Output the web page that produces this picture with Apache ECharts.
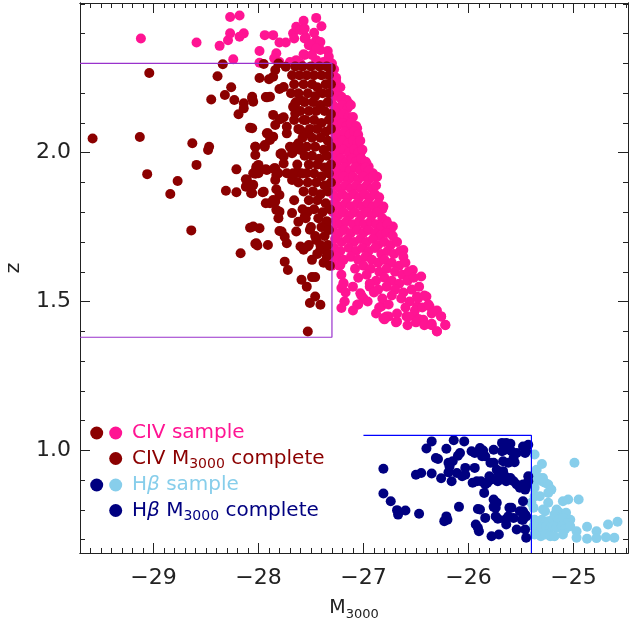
<!DOCTYPE html>
<html><head><meta charset="utf-8">
<script src="https://cdn.jsdelivr.net/npm/echarts@6/dist/echarts.min.js"></script>
<style>html,body{margin:0;padding:0;background:#fff}#c{width:629px;height:627px}</style>
</head><body><div id="c"></div>
<script>
// ---- axis ticks ----
const xMajorTicks = [-29, -28, -27, -26, -25];
const yMajorTicks = [1.0, 1.5, 2.0];
const xRange = [-29.7, -24.48];
const yRange = [0.655, 2.503];

// ---- box limits ----
const civBox = [[-29.7, 2.3], [-27.3, 2.3], [-27.3, 1.38], [-29.7, 1.38]];
const hbBox = [[-27.0, 1.05], [-25.4, 1.05], [-25.4, 0.655]];

// ---- CIV sample (not complete) ----
const civSample = [
[-29.12,2.384],[-28.59,2.37],[-28.27,2.456],[-28.18,2.461],[-28.37,2.359],[-28.29,2.378],[-28.27,2.401],[-28.18,2.39],[-28.14,2.401],[-28.24,2.314],
[-27.99,2.342],[-27.94,2.395],[-27.86,2.395],[-27.99,2.302],[-27.83,2.334],[-27.85,2.317],[-27.80,2.37],[-27.74,2.37],[-27.67,2.401],[-27.66,2.384],
[-27.64,2.423],[-27.60,2.412],[-27.57,2.443],[-27.55,2.388],[-27.52,2.361],[-27.48,2.356],[-27.45,2.378],[-27.47,2.403],[-27.45,2.453],[-27.40,2.425],
[-27.41,2.345],[-27.34,2.342],[-27.33,2.322],[-27.56,2.328],[-27.64,2.311],[-27.45,2.311],[-27.80,2.305],[-27.70,2.305],[-27.56,2.417],[-27.56,2.384],
[-27.51,2.365],[-27.41,2.372],[-27.45,2.35],[-27.57,2.331],[-27.49,2.328],[-27.38,2.305],[-27.30,2.30],[-27.60,2.30],
[-27.29,2.255],[-27.26,2.252],[-27.29,2.216],[-27.24,2.194],[-27.21,2.188],[-27.14,2.166],[-27.16,2.177],[-27.24,2.132],[-27.19,2.127],[-27.26,2.099],
[-27.13,2.11],[-27.06,2.082],[-27.11,2.071],[-27.16,2.054],[-27.05,2.032],[-27.03,1.998],[-27.0,1.964],[-26.95,1.953],[-26.91,1.931],[-26.87,1.919],
[-26.97,1.964],[-26.89,1.919],[-26.81,1.819],[-26.72,1.752],[-26.62,1.673],[-26.53,1.606],[-26.45,1.584],[-26.40,1.517],[-26.37,1.483],[-26.26,1.45],
[-26.22,1.422],[-26.30,1.399],[-26.35,1.425],
[-27.30,1.629],[-27.22,1.623],[-27.19,1.562],[-27.21,1.545],[-27.18,1.50],[-27.21,1.478],[-27.06,1.489],[-27.03,1.528],[-27.0,1.511],[-26.94,1.55],
[-26.83,1.483],[-26.76,1.45],[-26.81,1.444],[-26.68,1.433],[-26.59,1.45],[-26.49,1.483],[-26.51,1.45],[-26.43,1.439],[-26.49,1.517],
[-27.28,2.28],[-27.30,2.27],[-27.29,2.25],[-27.26,2.24],[-27.29,2.22],[-27.25,2.21],[-27.22,2.22],
[-27.28,2.19],[-27.24,2.19],[-27.21,2.18],[-27.17,2.17],
[-27.29,2.16],[-27.25,2.15],[-27.20,2.16],[-27.15,2.15],[-27.12,2.16],
[-27.28,2.13],[-27.24,2.12],[-27.19,2.13],[-27.14,2.12],[-27.10,2.12],
[-27.29,2.10],[-27.25,2.09],[-27.20,2.10],[-27.16,2.09],[-27.12,2.10],[-27.07,2.09],
[-27.28,2.07],[-27.23,2.06],[-27.18,2.07],[-27.13,2.06],[-27.09,2.07],[-27.05,2.06],
[-27.29,2.04],[-27.25,2.03],[-27.20,2.04],[-27.15,2.03],[-27.10,2.04],[-27.06,2.03],[-27.03,2.04],
[-27.28,2.01],[-27.24,2.00],[-27.19,2.01],[-27.14,2.00],[-27.09,2.01],[-27.05,2.00],[-27.01,2.01],
[-27.29,1.98],[-27.25,1.97],[-27.21,1.98],[-27.16,1.97],[-27.11,1.98],[-27.07,1.97],[-27.02,1.98],[-26.98,1.97],
[-27.28,1.95],[-27.23,1.94],[-27.18,1.95],[-27.13,1.94],[-27.08,1.95],[-27.03,1.94],[-26.98,1.95],[-26.95,1.94],
[-27.29,1.92],[-27.24,1.91],[-27.19,1.92],[-27.14,1.91],[-27.10,1.92],[-27.05,1.91],[-27.00,1.92],[-26.95,1.91],[-26.91,1.92],
[-27.28,1.89],[-27.22,1.88],[-27.17,1.89],[-27.12,1.88],[-27.07,1.89],[-27.02,1.88],[-26.97,1.89],[-26.92,1.88],[-26.88,1.89],
[-27.29,1.86],[-27.25,1.85],[-27.20,1.86],[-27.15,1.85],[-27.09,1.86],[-27.04,1.85],[-26.99,1.86],[-26.94,1.85],[-26.89,1.86],[-26.85,1.85],
[-27.28,1.83],[-27.23,1.82],[-27.17,1.83],[-27.12,1.82],[-27.06,1.83],[-27.01,1.82],[-26.96,1.83],[-26.91,1.82],[-26.86,1.83],[-26.82,1.81],
[-27.29,1.80],[-27.24,1.79],[-27.19,1.80],[-27.13,1.79],[-27.08,1.80],[-27.02,1.79],[-26.97,1.80],[-26.92,1.79],[-26.87,1.80],[-26.82,1.78],[-26.78,1.77],
[-27.27,1.77],[-27.22,1.76],[-27.16,1.77],[-27.10,1.76],[-27.04,1.77],[-26.99,1.76],[-26.93,1.77],[-26.88,1.76],[-26.83,1.75],[-26.77,1.76],[-26.74,1.74],
[-27.29,1.74],[-27.23,1.73],[-27.18,1.74],[-27.12,1.73],[-27.06,1.74],[-27.00,1.73],[-26.95,1.74],[-26.89,1.73],[-26.84,1.72],[-26.78,1.73],[-26.72,1.72],
[-27.27,1.71],[-27.21,1.70],[-27.15,1.71],[-27.09,1.70],[-27.03,1.71],[-26.97,1.70],[-26.91,1.71],[-26.86,1.69],[-26.80,1.70],[-26.74,1.69],[-26.68,1.70],
[-27.28,1.68],[-27.22,1.67],[-27.14,1.68],[-27.07,1.67],[-27.01,1.68],[-26.95,1.67],[-26.89,1.68],[-26.83,1.66],[-26.77,1.67],[-26.71,1.66],[-26.65,1.67],[-26.62,1.65],
[-27.26,1.65],[-27.19,1.64],[-27.12,1.65],[-27.05,1.64],[-26.98,1.65],[-26.92,1.64],[-26.86,1.63],[-26.80,1.64],[-26.73,1.63],[-26.66,1.62],[-26.60,1.63],
[-27.30,1.62],[-27.23,1.62],[-27.08,1.61],[-27.00,1.62],[-26.93,1.61],[-26.85,1.60],[-26.78,1.61],[-26.70,1.60],[-26.63,1.59],[-26.57,1.60],
[-27.21,1.59],[-27.05,1.58],[-26.97,1.59],[-26.88,1.57],[-26.80,1.58],[-26.73,1.57],[-26.66,1.56],[-26.58,1.57],[-26.52,1.58],
[-27.19,1.56],[-27.10,1.55],[-26.94,1.56],[-26.86,1.54],[-26.78,1.55],[-26.70,1.54],[-26.62,1.53],[-26.54,1.54],[-26.47,1.55],
[-27.17,1.53],[-27.02,1.52],[-26.90,1.53],[-26.82,1.51],[-26.73,1.52],[-26.64,1.51],[-26.56,1.50],[-26.48,1.51],[-26.42,1.52],
[-27.18,1.50],[-27.05,1.49],[-26.96,1.50],[-26.85,1.48],[-26.76,1.49],[-26.60,1.48],[-26.51,1.47],[-26.44,1.48],[-26.38,1.49],
[-27.10,1.47],[-26.88,1.46],[-26.78,1.45],[-26.68,1.46],[-26.57,1.45],[-26.47,1.44],[-26.35,1.46],[-26.30,1.47],
[-26.80,1.44],[-26.69,1.43],[-26.58,1.42],[-26.50,1.43],[-26.42,1.42],[-26.26,1.45],[-26.35,1.42],[-26.22,1.42],[-26.30,1.40]
];

// ---- CIV M3000 complete ----
const civComplete = [
[-29.58,2.048],[-29.13,2.053],[-29.04,2.268],[-29.06,1.928],[-28.77,1.905],[-28.84,1.861],[-28.63,2.032],[-28.59,1.959],[-28.47,2.02],[-28.45,2.179],
[-28.39,2.257],[-28.34,2.297],[-28.26,2.22],[-28.32,2.194],[-28.23,2.177],[-28.14,2.166],[-28.14,2.149],[-28.19,2.129],[-28.08,2.084],[-28.06,2.188],
[-28.05,2.171],[-28.21,1.944],[-28.31,1.872],[-28.21,1.867],[-28.11,1.908],[-28.12,1.886],[-28.06,1.864],[-28.03,2.02],[-28.03,1.929],[-28.0,1.948],
[-27.96,1.867],[-27.99,2.251],[-27.95,2.298],[-27.93,2.187],[-27.89,2.188],[-27.90,2.247],[-27.86,2.255],[-27.86,2.127],[-27.92,2.065],[-27.89,2.043],
[-27.94,2.02],[-27.84,2.278],[-27.81,2.30],[-27.80,2.214],[-27.76,2.221],[-27.74,2.289],[-27.84,2.093],[-27.80,2.112],[-27.76,2.119],[-27.73,2.065],
[-27.79,1.996],[-27.76,1.987],[-27.70,2.02],[-27.67,2.003],[-27.85,1.945],[-27.81,1.931],[-27.84,1.908],[-27.68,1.908],[-27.64,1.931],[-27.65,2.166],
[-27.64,2.143],[-27.60,2.177],[-28.06,2.182],[-27.92,2.186],[-27.67,2.154],[-27.65,2.132],[-27.78,2.115],[-27.73,2.087],
[-28.06,2.082],[-27.91,2.065],[-27.86,2.054],[-27.60,2.076],[-27.57,2.11],[-27.54,2.065],[-27.62,2.032],[-27.60,2.009],[-28.03,2.02],[-27.94,2.026],
[-27.68,1.998],[-27.78,1.998],[-27.76,1.964],[-28.02,1.953],[-27.92,1.942],[-27.84,1.948],[-27.73,1.931],[-27.67,1.931],[-27.60,1.931],[-27.54,1.931],
[-28.03,1.992],[-28.0,1.931],[-28.05,1.892],[-27.95,1.869],[-27.89,1.83],[-27.84,1.836],[-27.80,1.802],[-27.81,1.78],[-28.05,1.752],[-27.99,1.746],
[-28.02,1.696],[-27.91,1.69],[-27.78,1.735],[-27.75,1.718],[-27.73,1.696],[-27.64,1.735],[-27.62,1.768],[-27.68,1.797],[-27.56,1.785],[-27.53,1.802],
[-27.51,1.741],[-27.75,1.634],[-27.72,1.606],[-27.60,1.685],[-27.53,1.685],[-27.57,1.674],[-27.49,1.64],[-27.41,1.674],[-27.45,1.707],[-27.59,1.573],
[-27.49,1.582],[-27.46,1.582],[-27.54,1.55],[-27.46,1.517],[-27.51,1.495],[-27.41,1.489],[-27.53,1.399],[-27.35,1.752],[-27.35,1.651],[-27.37,1.674],
[-28.64,1.739],[-28.48,2.009],[-28.12,1.911],[-28.06,1.888],[-28.07,1.864],[-28.05,1.931],[-28.02,1.948],[-28.0,1.959],[-27.93,1.83],[-27.86,1.841],
[-28.08,1.748],[-28.03,1.694],[-28.01,1.688],[-28.17,1.662],[-27.93,1.944],[-27.85,1.948],[-27.83,1.925],[-27.83,1.877],[-27.80,1.858],[-27.83,1.808],
[-27.80,1.737],
[-27.65,2.29],[-27.58,2.29],[-27.50,2.29],[-27.42,2.29],[-27.35,2.29],[-27.31,2.285],
[-27.68,2.26],[-27.61,2.26],[-27.54,2.26],[-27.47,2.26],[-27.40,2.26],[-27.33,2.26],
[-27.66,2.23],[-27.57,2.23],[-27.49,2.23],[-27.44,2.22],[-27.36,2.23],[-27.31,2.23],
[-27.69,2.20],[-27.62,2.20],[-27.53,2.20],[-27.46,2.19],[-27.39,2.20],[-27.33,2.20],
[-27.64,2.17],[-27.56,2.17],[-27.48,2.17],[-27.41,2.16],[-27.34,2.17],
[-27.60,2.14],[-27.52,2.14],[-27.45,2.14],[-27.37,2.14],[-27.31,2.13],
[-27.66,2.11],[-27.55,2.11],[-27.47,2.11],[-27.40,2.10],[-27.33,2.11],
[-27.62,2.08],[-27.51,2.08],[-27.44,2.08],[-27.36,2.07],[-27.31,2.08],
[-27.58,2.05],[-27.49,2.05],[-27.41,2.05],[-27.34,2.04],
[-27.65,2.02],[-27.54,2.02],[-27.46,2.02],[-27.38,2.01],[-27.31,2.02],
[-27.56,1.99],[-27.49,1.99],[-27.42,1.98],[-27.35,1.99],
[-27.63,1.96],[-27.52,1.96],[-27.44,1.96],[-27.37,1.95],[-27.31,1.96],
[-27.58,1.93],[-27.47,1.93],[-27.40,1.92],[-27.33,1.93],
[-27.62,1.90],[-27.53,1.90],[-27.45,1.90],[-27.37,1.89],[-27.31,1.90],
[-27.57,1.87],[-27.48,1.87],[-27.41,1.86],[-27.34,1.87],
[-27.66,1.84],[-27.52,1.84],[-27.44,1.84],[-27.36,1.83],
[-27.58,1.81],[-27.47,1.81],[-27.39,1.80],[-27.32,1.81],
[-27.55,1.78],[-27.43,1.78],[-27.35,1.77],
[-27.50,1.75],[-27.40,1.75],[-27.33,1.74],
[-27.46,1.72],[-27.37,1.72],
[-27.52,1.69],[-27.41,1.69],[-27.34,1.69],
[-27.44,1.66],[-27.33,1.66],
[-27.38,1.63],[-27.32,1.62]
];

// ---- Hbeta sample (not complete) ----
const hbSample = [
[-25.37,0.986],[-25.35,0.935],[-25.30,0.954],[-25.38,0.918],[-25.37,0.896],[-25.30,0.896],[-25.27,0.891],[-25.24,0.885],[-25.29,0.907],[-25.32,0.907],
[-25.39,0.879],[-25.37,0.874],[-25.21,0.868],[-25.24,0.857],[-24.99,0.958],[-25.32,0.846],[-25.24,0.824],[-25.10,0.829],[-25.05,0.835],[-24.95,0.835],
[-25.38,0.807],[-25.29,0.801],[-25.27,0.795],[-25.16,0.801],[-25.13,0.79],[-25.07,0.79],[-25.18,0.784],[-25.20,0.767],[-25.14,0.767],[-25.10,0.773],
[-25.03,0.767],[-25.06,0.756],[-25.37,0.767],[-25.34,0.762],[-25.30,0.767],[-25.27,0.756],[-25.24,0.762],[-25.38,0.745],[-25.35,0.734],[-25.30,0.74],
[-25.26,0.745],[-25.22,0.74],[-25.19,0.745],[-25.16,0.74],[-25.11,0.745],[-25.08,0.734],[-25.03,0.745],[-24.97,0.728],[-24.87,0.743],[-24.78,0.728],
[-24.67,0.751],[-24.58,0.76],[-25.37,0.717],[-25.31,0.711],[-25.27,0.717],[-25.22,0.711],[-25.18,0.711],[-25.10,0.717],[-24.97,0.706],[-24.87,0.703],
[-24.78,0.705],[-24.69,0.708],[-24.61,0.706],[-25.40,0.824],[-25.37,0.845]
];

// ---- Hbeta M3000 complete ----
const hbComplete = [
[-26.81,0.938],[-26.81,0.855],[-26.74,0.829],[-26.68,0.799],[-26.67,0.784],[-26.60,0.798],[-26.47,0.787],[-26.50,0.918],[-26.45,0.924],[-26.40,1.006],
[-26.35,1.03],[-26.35,0.922],[-26.31,0.974],[-26.29,0.971],[-26.26,0.906],[-26.21,1.005],[-26.14,1.034],[-26.04,1.03],[-26.19,0.958],[-26.18,0.946],
[-26.15,0.963],[-26.19,0.926],[-26.16,0.896],[-26.10,0.982],[-26.08,0.991],[-26.11,0.924],[-26.06,0.913],[-26.03,0.941],[-26.03,0.918],[-26.09,0.81],
[-26.21,0.778],[-26.20,0.767],[-26.23,0.762],[-25.97,0.997],[-25.94,0.991],[-25.89,1.008],[-25.86,0.999],[-25.84,0.98],[-25.87,0.98],[-25.94,0.941],
[-25.92,0.896],[-25.96,0.891],[-25.88,0.896],[-25.84,0.885],[-25.91,0.803],[-25.85,0.857],[-25.84,0.773],[-25.93,0.751],[-25.91,0.74],[-25.90,0.728],
[-25.78,0.711],[-25.71,0.717],[-25.76,1.002],[-25.76,0.958],[-25.79,0.958],[-25.73,0.935],[-25.71,0.918],[-25.80,0.913],[-25.82,0.891],[-25.78,0.902],
[-25.72,0.896],[-25.76,0.835],[-25.73,0.824],[-25.74,0.807],[-25.76,0.81],[-25.68,1.025],[-25.64,1.025],[-25.60,1.022],[-25.65,1.002],[-25.59,0.997],
[-25.68,0.997],[-25.67,0.963],[-25.62,0.958],[-25.56,0.96],[-25.57,0.974],[-25.67,0.93],[-25.65,0.913],[-25.60,0.907],[-25.64,0.896],[-25.57,0.896],
[-25.54,0.991],[-25.48,1.013],[-25.45,0.997],[-25.43,1.019],[-25.46,0.991],[-25.54,0.885],[-25.51,0.874],[-25.48,0.885],[-25.45,0.879],[-25.46,0.868],
[-25.43,0.913],[-25.43,0.896],[-25.61,0.807],[-25.59,0.807],[-25.62,0.778],[-25.57,0.773],[-25.48,0.829],[-25.51,0.795],[-25.48,0.795],[-25.46,0.784],
[-25.45,0.778],[-25.48,0.767],[-25.49,0.767],[-25.54,0.734],[-25.46,0.734],[-25.45,0.706],[-25.64,0.751],[-25.65,0.767],[-25.72,0.77],[-25.74,0.778],
[-25.89,0.801]
];

// ---- legend text ----
const legendRows = [
  {text: '{a|CIV sample}', color: '#FF1493', dots: ['#8B0000', '#FF1493']},
  {text: '{a|CIV M}{s|3000}{a| complete}', color: '#8B0000', dots: [null, '#8B0000']},
  {text: '{a|H}{b|β}{a| sample}', color: '#87CEEB', dots: ['#000080', '#87CEEB']},
  {text: '{a|H}{b|β}{a| M}{s|3000}{a| complete}', color: '#000080', dots: [null, '#000080']}
];

const FONT = 'DejaVu Sans';
const chart = echarts.init(document.getElementById('c'), null, {renderer: 'canvas'});

const xMinor = [], yMinor = [];
for (let k = -297; k <= -245; k++) xMinor.push(k / 10);
for (let k = 7; k <= 25; k++) yMinor.push(k / 10);

const axisCol = '#222';
function xAx(pos, major, showLabel) {
  return {
    type: 'value', position: pos, min: xRange[0], max: xRange[1],
    axisLine: {show: true, onZero: false, lineStyle: {color: axisCol, width: 1}},
    axisTick: {show: true, inside: true, length: major ? 10 : 5, customValues: major ? xMajorTicks : xMinor, lineStyle: {color: axisCol, width: 1}},
    axisLabel: showLabel ? {show: true, customValues: xMajorTicks, margin: 14, fontFamily: FONT, fontSize: 22, color: '#222',
      formatter: v => '\u2212' + Math.abs(Math.round(v))} : {show: false},
    splitLine: {show: false},
    name: showLabel ? '{m|M}{s|3000}' : '', nameLocation: 'middle', nameGap: 43,
    nameTextStyle: {rich: {m: {fontFamily: FONT, fontSize: 19, color: '#222'}, s: {fontFamily: FONT, fontSize: 13, color: '#222', padding: [12, 0, 0, 0]}}}
  };
}
function yAx(pos, major, showLabel) {
  return {
    type: 'value', position: pos, min: yRange[0], max: yRange[1],
    axisLine: {show: true, onZero: false, lineStyle: {color: axisCol, width: 1}},
    axisTick: {show: true, inside: true, length: major ? 10 : 5, customValues: major ? yMajorTicks : yMinor, lineStyle: {color: axisCol, width: 1}},
    axisLabel: showLabel ? {show: true, customValues: yMajorTicks, margin: 9, fontFamily: FONT, fontSize: 22, color: '#222',
      formatter: v => v.toFixed(1)} : {show: false},
    splitLine: {show: false},
    name: showLabel ? 'z' : '', nameLocation: 'middle', nameGap: 56, nameRotate: 90,
    nameTextStyle: {fontFamily: FONT, fontSize: 20, color: '#222', padding: [0, 0, 0, 20]}
  };
}

const graphics = [];
const rowY = [433, 458.5, 485, 510.5];
legendRows.forEach((r, i) => {
  if (r.dots[0]) graphics.push({type: 'circle', shape: {cx: 96.7, cy: rowY[i], r: 6.5}, style: {fill: r.dots[0]}, z: 100});
  graphics.push({type: 'circle', shape: {cx: 115.7, cy: rowY[i], r: 6.5}, style: {fill: r.dots[1]}, z: 100});
  graphics.push({type: 'text', x: 132, y: rowY[i], z: 100, style: {
    text: r.text, verticalAlign: 'middle', fill: r.color,
    rich: {
      a: {fontFamily: FONT, fontSize: 20, fill: r.color},
      b: {fontFamily: FONT, fontSize: 20, fill: r.color, fontStyle: 'italic'},
      s: {fontFamily: FONT, fontSize: 14, fill: r.color, padding: [12, 0, 0, 0]}
    }}});
});

const sym = 10;
chart.setOption({
  animation: false,
  backgroundColor: '#fff',
  grid: {left: 80, right: 1, top: 3, bottom: 74, containLabel: false, outerBoundsMode: 'none'},
  xAxis: [xAx('bottom', true, true), xAx('bottom', false, false), xAx('top', true, false), xAx('top', false, false)],
  yAxis: [yAx('left', true, true), yAx('left', false, false), yAx('right', true, false), yAx('right', false, false)],
  series: [
    {type: 'scatter', data: civSample, symbolSize: sym, itemStyle: {color: '#FF1493', opacity: 1}, z: 2},
    {type: 'scatter', data: civComplete, symbolSize: sym, itemStyle: {color: '#8B0000', opacity: 1}, z: 3},
    {type: 'scatter', data: hbSample, symbolSize: sym, itemStyle: {color: '#87CEEB', opacity: 1}, z: 2},
    {type: 'scatter', data: hbComplete, symbolSize: sym, itemStyle: {color: '#000080', opacity: 1}, z: 3},
    {type: 'line', data: civBox, symbol: 'none', lineStyle: {color: '#9932CC', width: 1.2}, z: 5},
    {type: 'line', data: hbBox, symbol: 'none', lineStyle: {color: '#0000FF', width: 1.2}, z: 5}
  ],
  graphic: graphics
});
</script></body></html>
